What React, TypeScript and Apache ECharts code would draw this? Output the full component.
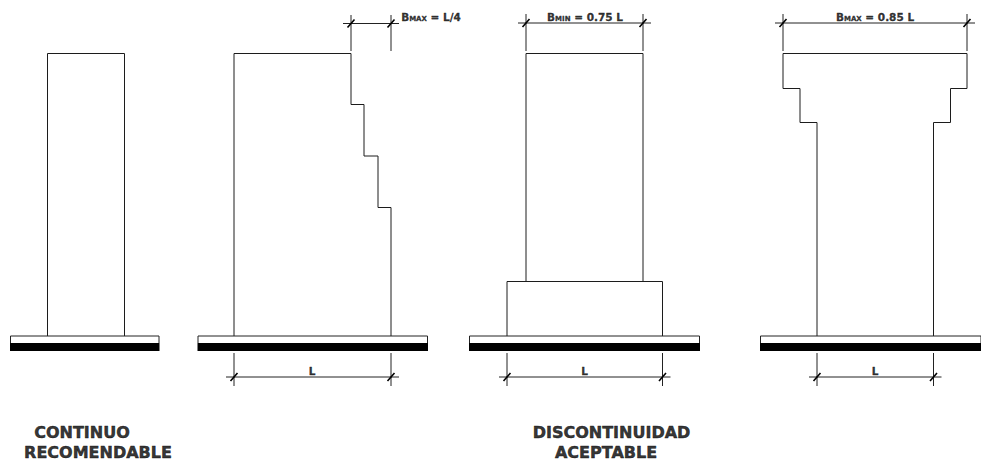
import React, { useEffect, useRef } from "react";
import * as echarts from "echarts";

type Pt = [number, number];

// Drawing outlines, in the units of the sheet
const column1: Pt[] = [[47.5, 336], [47.5, 53.5], [124.5, 53.5], [124.5, 336]];
const column2: Pt[] = [[234, 336], [234, 53.5], [351, 53.5], [351, 104.5], [364, 104.5], [364, 156], [378, 156], [378, 207.5], [391, 207.5], [391, 336]];
const column3: Pt[] = [[526, 281], [526, 53.5], [643, 53.5], [643, 281]];
const column3Base: Pt[] = [[507, 336], [507, 281.5], [662.5, 281.5], [662.5, 336]];
const column4: Pt[] = [[817, 336], [817, 122.5], [800, 122.5], [800, 88.5], [783, 88.5], [783, 53.5], [967, 53.5], [967, 88.5], [950.5, 88.5], [950.5, 122.5], [933.5, 122.5], [933.5, 336]];

// Ground slabs: left edge, right edge
const slabSpans: Pt[] = [[10.5, 159], [198, 427.5], [469.5, 699.5], [760.5, 981]];
const slabTop = 336;
const slabMiddle = 343;
const slabBottom = 351;

// Dimension lines: left, right, line level, witness start, witness end, overhang
const dimensions: number[][] = [
  [234, 391, 377, 353, 386, 8],
  [507, 662.5, 377, 353, 386, 8],
  [817, 933.5, 377, 353, 386, 8],
  [351, 391, 23.5, 15, 51, 8],
  [526, 643, 23, 14, 51, 8],
  [783, 967, 23, 14, 51, 8],
];

// Texts: small-cap bits and titles
const bottomLabel = "L";
const bottomLabelSpots: Pt[] = [[312, 371], [584.5, 371], [875, 371]];
const topLabelSpots: Pt[] = [[431, 17], [585, 16.5], [875, 16.5]];
const topLabelSubs = ["MAX", "MIN", "MAX"];
const topLabelRests = [" = L/4", " = 0.75 L", " = 0.85 L"];
const titleLines = ["CONTINUO", "RECOMENDABLE", "DISCONTINUIDAD", "ACEPTABLE"];
const titleSpots: Pt[] = [[82, 432], [98, 452], [611.5, 432], [606, 452]];

const INK = "#1c1c1c";

const lineSeries = (data: (Pt | string[])[], color: string, width: number, z = 2) => ({
  type: "line",
  data,
  showSymbol: false,
  symbol: "none",
  silent: true,
  clip: false,
  z,
  lineStyle: { color, width, cap: "butt", join: "miter" },
});

const breakRow = ["-", "-"];

function buildOption() {
  const series: any[] = [column1, column2, column3, column3Base, column4].map((c) => lineSeries(c, INK, 1));

  slabSpans.forEach(([a, b]) => {
    series.push(
      lineSeries([[a, slabMiddle], [a, slabTop], [b, slabTop], [b, slabMiddle]], "#222", 1, 3),
      lineSeries([[a - 0.5, (slabMiddle + slabBottom) / 2], [b + 0.5, (slabMiddle + slabBottom) / 2]], "#000", slabBottom - slabMiddle, 3),
    );
  });

  dimensions.forEach(([l, r, y, w0, w1, over]) => {
    series.push(
      lineSeries([[l - over, y], [r + over, y]], "#222", 1),
      lineSeries([[l, w0], [l, w1], breakRow, [r, w0], [r, w1]] as any, "#222", 1),
      lineSeries([[l - 3.5, y + 4], [l + 3.5, y - 4], breakRow, [r - 3.5, y + 4], [r + 3.5, y - 4]] as any, "#000", 1.6, 4),
    );
  });

  series.push({
    type: "scatter",
    symbolSize: 0,
    silent: true,
    z: 5,
    data: bottomLabelSpots.map((p) => ({ value: p, name: bottomLabel })),
    label: {
      show: true,
      position: "inside",
      formatter: "{b}",
      fontFamily: "DejaVu Sans",
      fontWeight: "bold",
      fontSize: 10.5,
      color: "#000",
      textBorderColor: "#000",
      textBorderWidth: 0.3,
    },
  });

  series.push({
    type: "scatter",
    symbolSize: 0,
    silent: true,
    z: 5,
    data: topLabelSpots.map((p, i) => ({ value: p, sub: topLabelSubs[i], rest: topLabelRests[i] })),
    label: {
      show: true,
      position: "inside",
      formatter: (p: any) => `{b|B}{s|${p.data.sub}}{b|${p.data.rest}}`,
      rich: {
        b: { fontFamily: "DejaVu Sans", fontWeight: "bold", fontSize: 10.5, color: "#000", textBorderColor: "#000", textBorderWidth: 0.3 },
        s: { fontFamily: "DejaVu Sans", fontWeight: "bold", fontSize: 7, color: "#000", verticalAlign: "bottom", textBorderColor: "#000", textBorderWidth: 0.3 },
      },
    },
  });

  series.push({
    type: "scatter",
    symbolSize: 0,
    silent: true,
    z: 5,
    data: titleSpots.map((p, i) => ({ value: p, name: titleLines[i] })),
    label: {
      show: true,
      position: "inside",
      formatter: "{b}",
      fontFamily: "DejaVu Sans",
      fontWeight: "bold",
      fontSize: 16,
      color: "#000",
      textBorderColor: "#000",
      textBorderWidth: 0.5,
    },
  });

  return {
    animation: false,
    backgroundColor: "#ffffff",
    grid: { left: 0, right: 0, top: 0, bottom: 0 },
    xAxis: { type: "value", min: 0, max: 981, show: false },
    yAxis: { type: "value", min: 0, max: 460, inverse: true, show: false },
    tooltip: { show: false },
    series,
  };
}

export default function App() {
  const ref = useRef<HTMLDivElement>(null);
  useEffect(() => {
    document.body.style.margin = "0";
    document.body.style.overflow = "hidden";
    const chart = echarts.init(ref.current!, undefined, { renderer: "svg" });
    chart.setOption(buildOption() as any);
    return () => chart.dispose();
  }, []);
  return <div ref={ref} style={{ width: 981, height: 460 }} />;
}
